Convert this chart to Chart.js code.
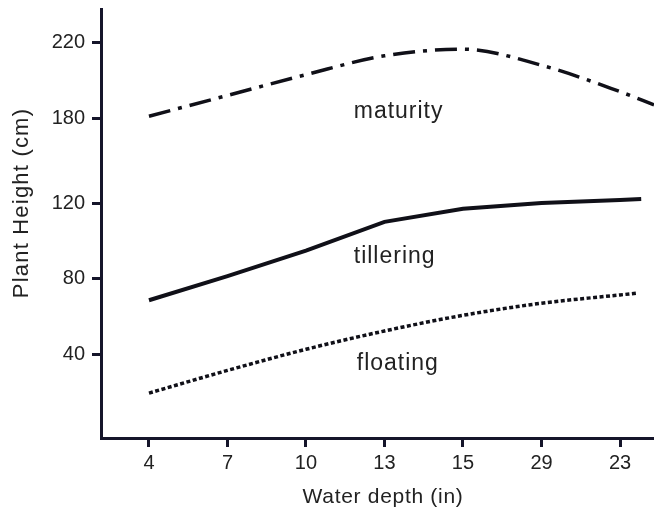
<!DOCTYPE html>
<html>
<head>
<meta charset="utf-8">
<script src="https://cdn.jsdelivr.net/npm/chart.js@4.4.0/dist/chart.umd.min.js"></script>
<style>
  html, body { margin:0; padding:0; background:#fff; }
</style>
</head>
<body>
<canvas id="c" width="654" height="510"></canvas>
<script>
// categories (water depth) as printed on the figure, left to right
const xLabels = ['4', '7', '10', '13', '15', '29', '23'];
// y ticks: where each label sits on the (linear) axis, and its printed text
const yTickValues = [40, 80, 120, 165, 205];
const yTickLabels = ['40', '80', '120', '180', '220'];

// curve heights read at each category (axis units)
const maturity  = [166, 177, 188, 198, 201.5, 193, 179];
const tillering = [68.5, 81.3, 94.8, 110, 117, 120, 121.6];
const floating  = [19.3, 31.3, 42.5, 52.2, 60.5, 66.9, 71.3];
// the curves run on a little past the last tick: [x position, height]
const maturityTail  = [6.433, 172];
const tilleringTail = [6.27, 122.1];
const floatingTail  = [6.23, 72.3];

// in-plot curve names: category position + height of the baseline
const curveNames = ['maturity', 'tillering', 'floating'];
const curveNameX = [3.18, 3.13, 3.17];
const curveNameY = [164.8, 88.2, 31.5];

const X_MIN = -0.611, X_MAX = 6.433;
const Y_MIN = -4.5, Y_MAX = 222.8;

const INK = '#15152a';
const FONT = "'Liberation Sans', Arial, sans-serif";

function pts(arr, tail){
  return arr.map((v, i) => ({ x: i, y: v })).concat([{ x: tail[0], y: tail[1] }]);
}

const textPlugin = {
  id: 'figText',
  afterDatasetsDraw(chart){
    const ctx = chart.ctx;
    const xs = chart.scales.x, ys = chart.scales.y;
    ctx.save();
    ctx.fillStyle = '#222';
    ctx.letterSpacing = '1px';
    ctx.font = '23px ' + FONT;
    ctx.textAlign = 'center';
    ctx.textBaseline = 'alphabetic';
    curveNames.forEach((t, i) => {
      ctx.fillText(t, xs.getPixelForValue(curveNameX[i]), ys.getPixelForValue(curveNameY[i]));
    });

    // axis titles
    ctx.textBaseline = 'middle';
    ctx.letterSpacing = '0.7px';
    ctx.font = '21px ' + FONT;
    ctx.fillText('Water depth (in)', 383, 497);
    ctx.letterSpacing = '1.2px';
    ctx.font = '22px ' + FONT;
    ctx.translate(22, 203);
    ctx.rotate(-Math.PI / 2);
    ctx.fillText('Plant Height (cm)', 0, 0);
    ctx.restore();
  }
};

new Chart(document.getElementById('c'), {
  type: 'line',
  data: {
    datasets: [
      {
        label: 'maturity',
        data: pts(maturity, maturityTail),
        borderColor: '#101018',
        borderWidth: 3.5,
        borderDash: [22, 8, 4, 8],
        cubicInterpolationMode: 'monotone',
        pointRadius: 0
      },
      {
        label: 'tillering',
        data: pts(tillering, tilleringTail),
        borderColor: '#101018',
        borderWidth: 4,
        tension: 0,
        pointRadius: 0
      },
      {
        label: 'floating',
        data: pts(floating, floatingTail),
        borderColor: '#101018',
        borderWidth: 3.5,
        borderDash: [4, 2.5],
        cubicInterpolationMode: 'monotone',
        pointRadius: 0
      }
    ]
  },
  options: {
    responsive: false,
    animation: false,
    layout: { padding: { top: 9, right: 0, bottom: 0, left: 0 } },
    plugins: { legend: { display: false }, tooltip: { enabled: false } },
    scales: {
      x: {
        type: 'linear',
        min: X_MIN,
        max: X_MAX,
        afterFit(s){ s.height = 72; s.paddingLeft = 0; s.paddingRight = 0; },
        afterBuildTicks(s){ s.ticks = xLabels.map((_, i) => ({ value: i })); },
        border: { display: true, color: INK, width: 3 },
        grid: { drawOnChartArea: false, drawTicks: true, tickLength: 9, tickWidth: 3, tickColor: INK },
        ticks: {
          autoSkip: false,
          maxRotation: 0,
          padding: 4,
          color: '#222',
          font: { family: FONT, size: 20 },
          callback: (v) => xLabels[v]
        }
      },
      y: {
        type: 'linear',
        min: Y_MIN,
        max: Y_MAX,
        afterFit(s){ s.width = 101; s.paddingTop = 0; s.paddingBottom = 0; },
        afterBuildTicks(s){ s.ticks = yTickValues.map(v => ({ value: v })); },
        border: { display: true, color: INK, width: 3 },
        grid: { drawOnChartArea: false, drawTicks: true, tickLength: 9, tickWidth: 3, tickColor: INK },
        ticks: {
          padding: 7,
          color: '#222',
          font: { family: FONT, size: 20 },
          callback: (v, i) => yTickLabels[i]
        }
      }
    }
  },
  plugins: [textPlugin]
});
</script>
</body>
</html>
